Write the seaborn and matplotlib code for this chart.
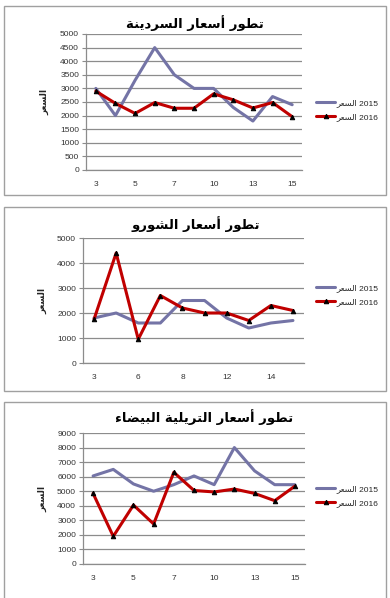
import numpy as np
import pandas as pd
import matplotlib
matplotlib.use('Agg')
import matplotlib.pyplot as plt
from matplotlib.patches import Rectangle
import seaborn as sns

sns.set_style('white')
plt.rcParams['font.family'] = ['Liberation Sans', 'DejaVu Sans']

# --- data ---
titles = ['تطور أسعار السردينة', 'تطور أسعار الشورو', 'تطور أسعار التريلية البيضاء']
ylabel = 'السعر'
series_names = ['2015', '2016']

cats_1 = [3, 4, 5, 6, 7, 8, 10, 12, 13, 14, 15]
p2015_1 = [3000, 2000, 3300, 4500, 3500, 3000, 3000, 2300, 1800, 2700, 2400]
p2016_1 = [2900, 2450, 2080, 2480, 2270, 2270, 2800, 2580, 2280, 2480, 1960]

cats_2 = [3, 4, 6, 7, 8, 10, 12, 13, 14, 15]
p2015_2 = [1800, 2000, 1600, 1600, 2500, 2500, 1800, 1400, 1600, 1700]
p2016_2 = [1750, 4400, 950, 2700, 2200, 2000, 2000, 1700, 2300, 2100]

cats_3 = [3, 4, 5, 6, 7, 8, 10, 12, 13, 14, 15]
p2015_3 = [6050, 6500, 5500, 5000, 5450, 6050, 5450, 8000, 6400, 5450, 5450]
p2016_3 = [4850, 1900, 4050, 2750, 6300, 5050, 4950, 5150, 4850, 4350, 5350]

ymax = [5000, 5000, 9000]
ystep = [500, 1000, 1000]

# minimal arabic shaping (matplotlib has no bidi / joining)
FORMS = {
    'ا': ('\uFE8D', '\uFE8E', None, None), 'أ': ('\uFE83', '\uFE84', None, None),
    'ب': ('\uFE8F', '\uFE90', '\uFE91', '\uFE92'), 'ة': ('\uFE93', '\uFE94', None, None),
    'ت': ('\uFE95', '\uFE96', '\uFE97', '\uFE98'), 'د': ('\uFEA9', '\uFEAA', None, None),
    'ر': ('\uFEAD', '\uFEAE', None, None), 'س': ('\uFEB1', '\uFEB2', '\uFEB3', '\uFEB4'),
    'ش': ('\uFEB5', '\uFEB6', '\uFEB7', '\uFEB8'), 'ض': ('\uFEBD', '\uFEBE', '\uFEBF', '\uFEC0'),
    'ط': ('\uFEC1', '\uFEC2', '\uFEC3', '\uFEC4'), 'ع': ('\uFEC9', '\uFECA', '\uFECB', '\uFECC'),
    'ل': ('\uFEDD', '\uFEDE', '\uFEDF', '\uFEE0'), 'ن': ('\uFEE5', '\uFEE6', '\uFEE7', '\uFEE8'),
    'و': ('\uFEED', '\uFEEE', None, None), 'ي': ('\uFEF1', '\uFEF2', '\uFEF3', '\uFEF4'),
    'ء': ('\uFE80', '\uFE80', None, None),
}


def shape(text):
    out = []
    for i, c in enumerate(text):
        if c not in FORMS:
            out.append(c)
            continue
        prev = text[i - 1] if i > 0 else None
        nxt = text[i + 1] if i + 1 < len(text) else None
        jp = prev in FORMS and FORMS[prev][2] is not None and c != 'ء'
        jn = FORMS[c][2] is not None and nxt in FORMS
        iso, fin, ini, med = FORMS[c]
        out.append(med if (jp and jn) else fin if jp else ini if jn else iso)
    return ''.join(out)[::-1]


fig = plt.figure(figsize=(3.9, 5.98), dpi=100)
W, H = 390.0, 598.0

# chart frames (px)
for (x0, y0, x1, y1) in [(4, 6, 386, 195), (4, 207, 386, 391), (4, 402, 386, 640)]:
    fig.patches.append(Rectangle((x0 / W, 1 - y1 / H), (x1 - x0) / W, (y1 - y0) / H,
                                 transform=fig.transFigure, fill=False,
                                 edgecolor='#a0a0a0', lw=1.0))

boxes = [(86, 34, 302, 170), (83, 238, 304, 363), (83, 433, 305, 564)]
title_pos = [(195, 23), (196, 224), (204, 417)]
ylab_x = [45, 43, 43]
leg_y = [110, 295, 496]
data = [(cats_1, p2015_1, p2016_1), (cats_2, p2015_2, p2016_2), (cats_3, p2015_3, p2016_3)]

for k in range(3):
    cats, a, b = data[k]
    l, t, r, bt = boxes[k]
    ax = fig.add_axes([l / W, 1 - bt / H, (r - l) / W, (bt - t) / H])
    pos = np.arange(len(cats))
    df = pd.DataFrame({'pos': np.concatenate([pos, pos]),
                       'price': a + b,
                       'year': [series_names[0]] * len(cats) + [series_names[1]] * len(cats)})
    sns.lineplot(data=df[df.year == '2015'], x='pos', y='price', color='#7474a6', lw=2.2,
                 ax=ax, label=shape(ylabel) + ' 2015')
    sns.lineplot(data=df[df.year == '2016'], x='pos', y='price', color='#c00000', lw=2.2,
                 marker='^', markersize=3.2, markerfacecolor='black', markeredgecolor='black',
                 ax=ax, label=shape(ylabel) + ' 2016')
    ax.set_xlim(-0.5, len(cats) - 0.5)
    ax.set_ylim(0, ymax[k])
    ax.set_yticks(np.arange(0, ymax[k] + 1, ystep[k]))
    ax.yaxis.grid(True, color='#8c8c8c', lw=0.9)
    ax.xaxis.grid(False)
    ax.set_xticks(pos[::2])
    ax.set_xticklabels([str(c) for c in cats[::2]])
    ax.set_xticks(np.arange(-0.5, len(cats), 1.0), minor=True)
    ax.tick_params(axis='x', which='major', length=0, labelsize=6, pad=8, colors='#333333')
    ax.tick_params(axis='x', which='minor', length=3, color='#8c8c8c', width=0.8)
    ax.tick_params(axis='y', length=3, color='#8c8c8c', width=0.8, labelsize=6,
                   pad=2, colors='#333333', left=True)
    for s in ['top', 'right']:
        ax.spines[s].set_visible(False)
    for s in ['left', 'bottom']:
        ax.spines[s].set_color('#8c8c8c')
        ax.spines[s].set_linewidth(0.9)
    ax.set_xlabel('')
    ax.set_ylabel('')
    ax.get_legend().remove()
    h, lb = ax.get_legend_handles_labels()
    fig.legend(h, lb, loc='center left', bbox_to_anchor=(316 / W, 1 - leg_y[k] / H),
               frameon=False, fontsize=6, handlelength=2.3, handletextpad=0.2,
               labelspacing=0.75, borderpad=0, borderaxespad=0)
    fig.text(title_pos[k][0] / W, 1 - title_pos[k][1] / H, shape(titles[k]),
             ha='center', va='center', fontsize=9.5, fontweight='bold', color='black',
             family=['DejaVu Sans'])
    fig.text(ylab_x[k] / W, 1 - ((t + bt) / 2) / H, shape(ylabel), rotation=90,
             ha='center', va='center', fontsize=6.5, fontweight='bold',
             family=['DejaVu Sans'])

fig.savefig('out.png', dpi=100)
